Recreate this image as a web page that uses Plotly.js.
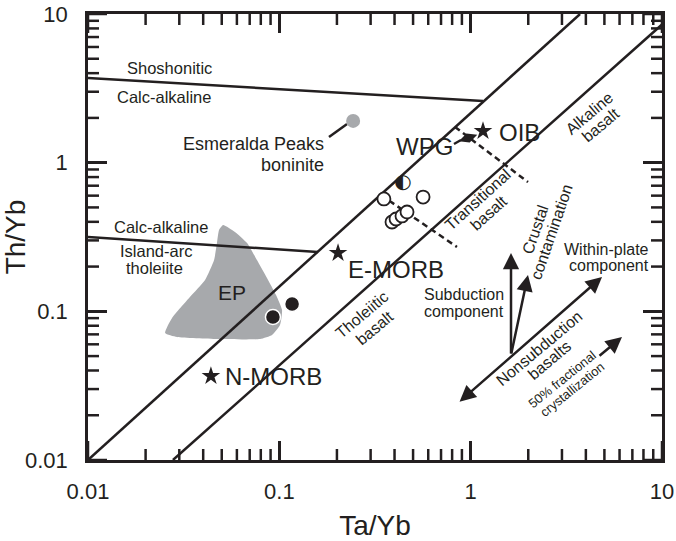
<!DOCTYPE html>
<html>
<head>
<meta charset="utf-8">
<script src="https://cdn.plot.ly/plotly-3.0.1.min.js"></script>
<style>html,body{margin:0;padding:0;background:#fff;}#chart{width:676px;height:541px;}</style>
</head>
<body>
<div id="chart"></div>
<script>
// ---------- axis ticks ----------
const majorTicks = [0.01, 0.1, 1, 10];
const majorTickText = ['0.01', '0.1', '1', '10'];
const minorTicks = [0.02,0.03,0.04,0.05,0.06,0.07,0.08,0.09,0.2,0.3,0.4,0.5,0.6,0.7,0.8,0.9,2,3,4,5,6,7,8,9];

// ---------- data (Ta/Yb, Th/Yb) ----------
// EP field (Esmeralda Peaks) outline
const epTaYb = [0.0508,0.0586,0.0678,0.0764,0.0862,0.0961,0.1033,0.1008,0.0916,0.0793,0.0472,0.0292,0.0253,0.0275,0.0341,0.0409,0.0456,0.0472,0.0484,0.0508];
const epThYb = [0.381,0.342,0.288,0.2215,0.1676,0.1287,0.1021,0.0809,0.0693,0.0651,0.0651,0.0672,0.0715,0.0902,0.1248,0.1625,0.2215,0.288,0.352,0.381];

// MORB-OIB array boundaries
const arrayUpperTaYb = [0.01, 3.73];
const arrayUpperThYb = [0.01, 10];
const arrayLowerTaYb = [0.0278, 10];
const arrayLowerThYb = [0.01, 8.5];

// Shoshonitic / calc-alkaline boundary
const shoshTaYb = [0.01, 1.16];
const shoshThYb = [3.71, 2.598];
// Calc-alkaline / island-arc tholeiite boundary
const iatTaYb = [0.01, 0.159];
const iatThYb = [0.316, 0.2506];

// dashed dividers
const dashUpperTaYb = [0.828, 1.994];
const dashUpperThYb = [1.738, 0.741];
const dashLowerTaYb = [0.340, 0.848];
const dashLowerThYb = [0.605, 0.271];

// leader lines
const boniniteLeaderTaYb = [0.1818, 0.2259];
const boniniteLeaderThYb = [1.488, 1.820];
const wpgLeaderTaYb = [0.818, 0.890];
const wpgLeaderThYb = [1.335, 1.420];

// reference compositions (N-MORB, E-MORB, OIB)
const refNames = ['N-MORB', 'E-MORB', 'OIB'];
const refTaYb = [0.0439, 0.2027, 1.16];
const refThYb = [0.0367, 0.247, 1.633];
// WPG
const wpgTaYb = [0.969];
const wpgThYb = [1.465];
// Esmeralda Peaks boninite
const boniniteTaYb = [0.243];
const boniniteThYb = [1.91];
// filled samples
const filledTaYb = [0.0926, 0.1166];
const filledThYb = [0.0916, 0.112];
// half-filled sample
const halfTaYb = [0.443];
const halfThYb = [0.730];
// open samples
const openTaYb = [0.352, 0.564, 0.388, 0.4073, 0.4376, 0.4649];
const openThYb = [0.570, 0.587, 0.399, 0.418, 0.438, 0.4657];

// vector arrows: tail -> head
const arrowTailTaYb = [1.625, 1.625, 0.859, 4.63];
const arrowTailThYb = [0.0509, 0.0509, 0.02417, 0.0493];
const arrowHeadTaYb = [1.625, 1.994, 4.858, 6.18];
const arrowHeadThYb = [0.2468, 0.1756, 0.1702, 0.0672];
const arrowDouble = [false, false, true, false];

// text labels
const labelText  = ['Shoshonitic','Calc-alkaline','Esmeralda Peaks','boninite','Calc-alkaline','Island-arc','tholeiite','EP','WPG','OIB','E-MORB','N-MORB','Alkaline','basalt','Transitional','basalt','Tholeiitic','basalt','Crustal','contamination','Within-plate','component','Subduction','component','Nonsubduction','basalts','50% fractional','crystallization'];
const labelTaYb  = [0.0268,0.02495,0.1753,0.1753,0.02407,0.02266,0.02239,0.0566,0.5703,1.810,0.4073,0.0927,4.155,4.742,1.092,1.232,0.2704,0.3125,2.195,2.661,8.76,8.76,1.530,1.530,2.276,2.567,3.002,3.385];
const labelThYb  = [4.33,2.765,1.335,0.9645,0.369,0.2545,0.1956,0.1349,1.275,1.608,0.1897,0.0367,2.158,1.792,0.561,0.4586,0.0959,0.0772,0.358,0.342,0.2626,0.2049,0.1288,0.1005,0.0562,0.0470,0.0348,0.0300];
const labelSize  = [16.5,16.5,18,18,16.5,16.5,16.5,21,24,24,24,24,16,16,16,16,16,16,16,16,16,16,16,16,16,16,13,13];
const labelAngle = [0,0,0,0,0,0,0,0,0,0,0,0,-40,-40,-42,-42,-40,-40,-71,-71,0,0,0,0,-40,-40,-39,-39];
const labelAnchor= ['center','center','right','right','center','center','center','center','center','center','center','center','center','center','center','center','center','center','center','center','right','right','right','right','center','center','center','center'];

// ---------- styling ----------
const FONT = 'Liberation Sans, Arial, Helvetica, sans-serif';
const INK = '#231f20';
const GRAY = '#a7a9ac';
const LW = 2.5;
const W = 676, H = 541, M = {l: 88, r: 14, t: 14, b: 81};
const X_DECADES = 3, Y_DECADES = 3;
const X_PX_PER_DEC = (W - M.l - M.r) / X_DECADES;
const Y_PX_PER_DEC = (H - M.t - M.b) / Y_DECADES;
const MAJOR_LEN = 19, MINOR_LEN = 11;

function lineTrace(x, y, dash) {
  return {x: x, y: y, mode: 'lines', type: 'scatter', hoverinfo: 'skip',
          line: {color: INK, width: LW, dash: dash || 'solid'}};
}

// inside tick marks on all four sides, built from the tick value arrays
function tickTrace(vals, len) {
  const fx = Math.pow(10, len / X_PX_PER_DEC), fy = Math.pow(10, len / Y_PX_PER_DEC);
  const x = [], y = [];
  vals.forEach(function(v) {
    x.push(v, v, null, v, v, null);
    y.push(0.01, 0.01 * fy, null, 10, 10 / fy, null);
    x.push(0.01, 0.01 * fx, null, 10, 10 / fx, null);
    y.push(v, v, null, v, v, null);
  });
  return {x: x, y: y, mode: 'lines', type: 'scatter', hoverinfo: 'skip', connectgaps: false,
          cliponaxis: false, line: {color: INK, width: LW}};
}

const traces = [
  {x: epTaYb, y: epThYb, type: 'scatter', mode: 'lines', fill: 'toself', fillcolor: GRAY,
   line: {color: GRAY, width: 0, shape: 'spline', smoothing: 0.5}, hoverinfo: 'skip'},
  lineTrace(arrayUpperTaYb, arrayUpperThYb),
  lineTrace(arrayLowerTaYb, arrayLowerThYb),
  lineTrace(shoshTaYb, shoshThYb),
  lineTrace(iatTaYb, iatThYb),
  lineTrace(dashUpperTaYb, dashUpperThYb, '6px,4px'),
  lineTrace(dashLowerTaYb, dashLowerThYb, '6px,4px'),
  lineTrace(boniniteLeaderTaYb, boniniteLeaderThYb),
  lineTrace(wpgLeaderTaYb, wpgLeaderThYb),
  tickTrace(majorTicks, MAJOR_LEN),
  tickTrace(minorTicks, MINOR_LEN),
  {x: boniniteTaYb, y: boniniteThYb, type: 'scatter', mode: 'markers', name: 'Esmeralda Peaks boninite',
   marker: {symbol: 'circle', size: 14, color: GRAY}},
  {x: filledTaYb, y: filledThYb, type: 'scatter', mode: 'markers',
   marker: {symbol: 'circle', size: 15, color: INK, line: {color: '#ffffff', width: 1.5}}},
  {x: openTaYb, y: openThYb, type: 'scatter', mode: 'markers',
   marker: {symbol: 'circle', size: 13, color: '#ffffff', line: {color: INK, width: 1.8}}},
  {x: halfTaYb, y: halfThYb, type: 'scatter', mode: 'text', text: ['\u25D0'],
   textposition: 'middle center', textfont: {family: 'DejaVu Sans', size: 20, color: INK}, hoverinfo: 'skip'},
  {x: wpgTaYb, y: wpgThYb, type: 'scatter', mode: 'markers', name: 'WPG',
   marker: {symbol: 'diamond-wide', size: 14, angle: -20, color: INK}},
  {x: refTaYb, y: refThYb, type: 'scatter', mode: 'markers', text: refNames,
   marker: {symbol: 'star', size: 14, color: INK}}
];

const annotations = [];
labelText.forEach(function(t, i) {
  annotations.push({
    x: Math.log10(labelTaYb[i]), y: Math.log10(labelThYb[i]), xref: 'x', yref: 'y',
    text: t, showarrow: false, textangle: labelAngle[i],
    xanchor: labelAnchor[i], yanchor: 'middle',
    font: {family: FONT, size: labelSize[i], color: INK}
  });
});
arrowHeadTaYb.forEach(function(hx, i) {
  const a = {
    x: Math.log10(hx), y: Math.log10(arrowHeadThYb[i]),
    ax: Math.log10(arrowTailTaYb[i]), ay: Math.log10(arrowTailThYb[i]),
    xref: 'x', yref: 'y', axref: 'x', ayref: 'y', text: '', showarrow: true,
    arrowhead: 2, arrowsize: 1.3, arrowwidth: LW, arrowcolor: INK, standoff: 0, startstandoff: 0
  };
  if (arrowDouble[i]) { a.arrowside = 'end+start'; a.startarrowhead = 2; a.startarrowsize = 1.3; }
  annotations.push(a);
});

function axis(title, labelStandoff) {
  return {
    type: 'log', range: [-2, 1], showgrid: false, zeroline: false,
    showline: true, linecolor: INK, linewidth: LW, mirror: 'ticks',
    ticks: 'inside', ticklen: MAJOR_LEN, tickwidth: LW, tickcolor: INK,
    tickmode: 'array', tickvals: majorTicks, ticktext: majorTickText,
    tickfont: {family: FONT, size: 22, color: INK},
    ticklabelstandoff: labelStandoff,
    title: {text: title, font: {family: FONT, size: 28, color: INK}}
  };
}

const layout = {
  width: W, height: H,
  margin: M,
  showlegend: false,
  xaxis: axis('Ta/Yb', 10),
  yaxis: axis('Th/Yb', 13),
  annotations: annotations,
  font: {family: FONT, color: INK}
};

Plotly.newPlot('chart', traces, layout, {displayModeBar: false});
</script>
</body>
</html>
